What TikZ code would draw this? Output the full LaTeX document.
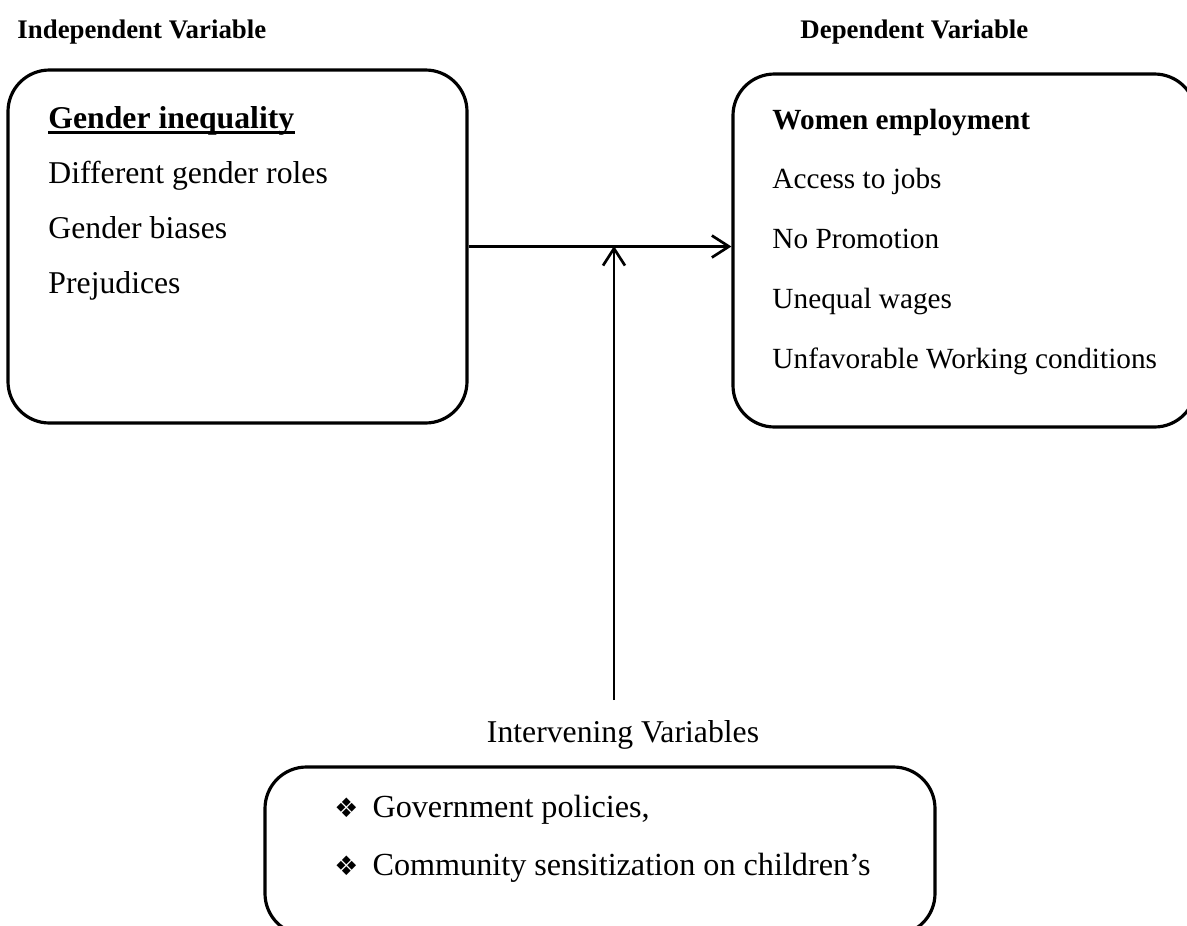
\documentclass[tikz,border=0pt]{standalone}
\usepackage{fontspec}
\setmainfont{Liberation Serif}
\newfontfamily\symfont{DejaVu Sans}
\usetikzlibrary{fit,arrows.meta}

\tikzset{
  box/.style={draw, line width=1.3pt, rounded corners=17pt, inner sep=0pt},
  arr/.style={line width=1.1pt, -{Straight Barb[length=7pt, width=9pt, line width=1.1pt]}},
  head/.style={anchor=base west, inner sep=0pt, font=\fontsize{11pt}{13pt}\selectfont\bfseries},
  leftitem/.style={anchor=base west, inner sep=0pt, font=\fontsize{13pt}{15pt}\selectfont},
  lefttitle/.style={leftitem, font=\fontsize{13pt}{15pt}\selectfont\bfseries},
  rightitem/.style={anchor=base west, inner sep=0pt, font=\fontsize{12pt}{14pt}\selectfont},
  righttitle/.style={rightitem, font=\fontsize{12pt}{14pt}\selectfont\bfseries},
  bullitem/.style={anchor=base west, inner sep=0pt, font=\fontsize{13.2pt}{16pt}\selectfont}
}
\newcommand{\bul}{\makebox[15.6pt][l]{\symfont\fontsize{11pt}{12pt}\selectfont ❖}}

\begin{document}
\begin{tikzpicture}[x=0.41pt, y=-0.41pt]
\useasboundingbox (0,0) rectangle (1187,925);

% Headings
\node[head] (indephead) at (17,38) {Independent Variable};
\node[head] (dephead) at (800,38) {Dependent Variable};

% Boxes
\node[box, fit={(8,70) (467,423)}] (indep) {};
\node[box, fit={(733,74) (1196,427)}] (dep) {};
\node[box, fit={(265,767) (935,935)}] (interv) {};

% Independent variable items
\node[lefttitle] (gtitle) at (48,128) {Gender inequality};
\draw[line width=1.2pt] ([yshift=-1.8pt]gtitle.base west) -- ([yshift=-1.8pt]gtitle.base east);
\node[leftitem] (roles) at (48,183) {Different gender roles};
\node[leftitem] (biases) at (48,238) {Gender biases};
\node[leftitem] (prejud) at (48,293) {Prejudices};

% Dependent variable items
\node[righttitle] (wtitle) at (772,129) {Women employment};
\node[rightitem] (access) at (772,188) {Access to jobs};
\node[rightitem] (promo) at (772,248) {No Promotion};
\node[rightitem] (wages) at (772,308) {Unequal wages};
\node[rightitem] (workcond) at (772,368) {Unfavorable Working conditions};

% Intervening variables
\node[leftitem, anchor=base] (ivlabel) at (623,742) {Intervening Variables};
\node[bullitem] (policy) at (334,817) {\bul Government policies,};
\node[bullitem] (sensit) at (334,875) {\bul Community sensitization on children's};

% Arrows
\coordinate (meet) at (614,246);
\coordinate (vfoot) at (614,700);
\draw[arr] (indep.east) -- (dep.west |- indep.east);
\draw[arr] (vfoot) -- (meet);

\end{tikzpicture}
\end{document}
